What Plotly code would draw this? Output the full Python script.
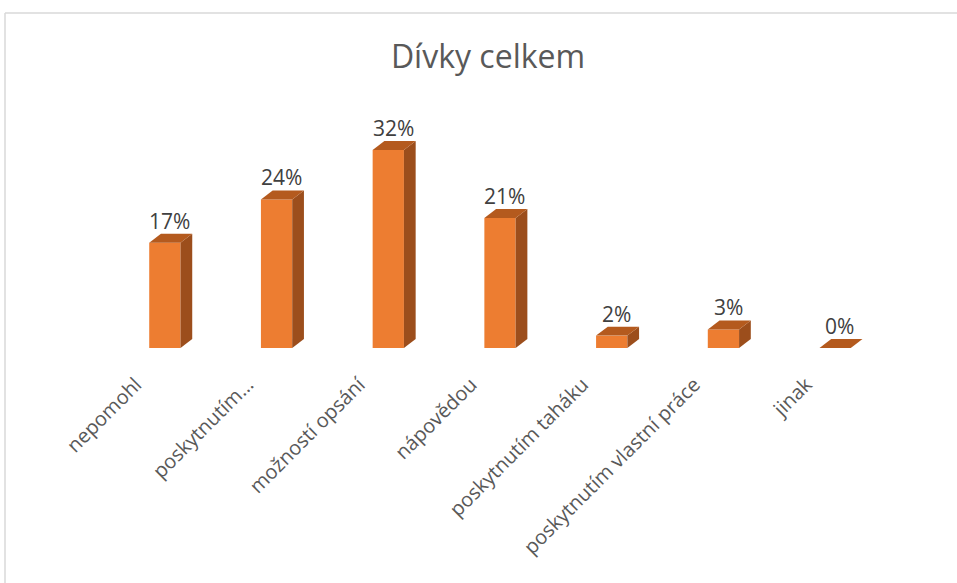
import plotly.graph_objects as go

categories = ["nepomohl", "poskytnutím…", "možností opsání", "nápovědou",
              "poskytnutím taháku", "poskytnutím vlastní práce", "jinak"]
values = [17, 24, 32, 21, 2, 3, 0]
labels = ["17%", "24%", "32%", "21%", "2%", "3%", "0%"]

FRONT = "#ED7D31"
SIDE = "#9C4E1C"
TOP = "#B45A1E"
W = 0.28     # bar width (category units)
DX = 0.105   # depth offset x (category units)
DY = 1.45    # depth offset y (value units)

L, R, T, B = 109, 66, 131, 235
W_PX, H_PX = 957, 583
pw = W_PX - L - R
ph = H_PX - T - B

fig = go.Figure()
xs = list(range(len(categories)))

fig.add_trace(go.Bar(x=xs, y=values, width=W, marker=dict(color=FRONT, line=dict(width=0)),
                     hoverinfo="skip", showlegend=False))

for i, v in zip(xs, values):
    x0, x1 = i - W / 2, i + W / 2
    if v > 0:
        fig.add_trace(go.Scatter(
            x=[x1, x1 + DX, x1 + DX, x1, x1], y=[0, DY, v + DY, v, 0],
            fill="toself", fillcolor=SIDE, mode="lines", line=dict(width=0, color=SIDE),
            hoverinfo="skip", showlegend=False))
    fig.add_trace(go.Scatter(
        x=[x0, x0 + DX, x1 + DX, x1, x0], y=[v, v + DY, v + DY, v, v],
        fill="toself", fillcolor=TOP, mode="lines", line=dict(width=0, color=TOP),
        hoverinfo="skip", showlegend=False))

for i, v, t in zip(xs, values, labels):
    fig.add_annotation(x=i + DX / 2 - 0.01, y=v + DY, text=t, showarrow=False,
                       yanchor="bottom", yshift=-3,
                       font=dict(family="Open Sans", size=21, color="#404040"))

# chart border (top and left edges visible)
bx = (5 - L) / pw
by = 1 + (T - 13) / ph
fig.add_shape(type="line", xref="paper", yref="paper", x0=bx, x1=(W_PX - L) / pw, y0=by, y1=by,
              line=dict(color="#D9D9D9", width=1.5), layer="below")
fig.add_shape(type="line", xref="paper", yref="paper", x0=bx, x1=bx, y0=by, y1=-(B) / ph,
              line=dict(color="#D9D9D9", width=1.5), layer="below")

fig.update_layout(
    width=W_PX, height=H_PX,
    margin=dict(l=L, r=R, t=T, b=B),
    paper_bgcolor="white", plot_bgcolor="white",
    title=dict(text="Dívky celkem", x=488 / W_PX, xanchor="center", y=1 - 57 / H_PX, yanchor="middle",
               font=dict(family="Open Sans", size=32, color="#595959")),
    xaxis=dict(range=[-0.5, 6.5], tickmode="array", tickvals=xs, ticktext=categories,
               tickangle=-45, showgrid=False, zeroline=False, showline=False, ticks="",
               ticklabelstandoff=20, ticklabelshift=-29,
               tickfont=dict(family="Open Sans", size=20, color="#595959"), fixedrange=True),
    yaxis=dict(range=[0, ph / 6.19], showgrid=False, zeroline=False, showline=False,
               showticklabels=False, ticks="", fixedrange=True),
    showlegend=False,
)

fig.write_html("out.html", config={"displayModeBar": False},
               post_script="document.body.style.margin='0';document.body.style.overflow='hidden';")
